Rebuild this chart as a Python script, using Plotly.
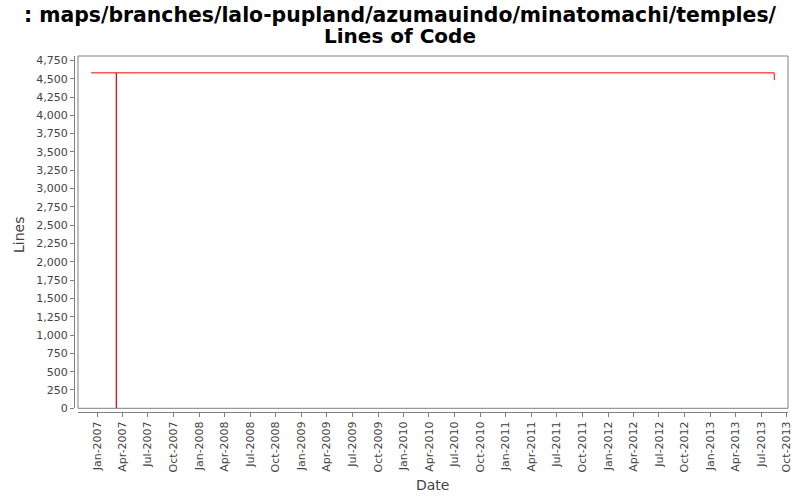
import plotly.graph_objects as go

# Data (step-shaped Lines of Code series)
dates = ["2006-12-11", "2007-03-11", "2007-03-11", "2007-03-11", "2013-08-17", "2013-08-17"]
lines = [4580, 4580, 0, 4580, 4580, 4480]

title_lines = [": maps/branches/lalo-pupland/azumauindo/minatomachi/temples/", "Lines of Code"]
y_ticks = list(range(0, 4751, 250))

fig = go.Figure()
fig.add_trace(go.Scatter(x=dates, y=lines, mode="lines",
                         line=dict(color="#ff0000", width=1), showlegend=False,
                         hoverinfo="skip"))

gray = "#808080"
tickfont = dict(family="DejaVu Sans", size=11, color="#444444")
L, R, T, B = 74, 12, 56, 88
W_PAPER = 800.0 - L - R
H_PAPER = 500.0 - T - B
BOTTOM_PX = 500.0 - B


def px_x(x):
    return (x - L) / W_PAPER


def px_y(y):
    return (BOTTOM_PX - y) / H_PAPER


annotations = []
for txt, ypx, size in zip(title_lines, [15, 36], [20.4, 20]):
    annotations.append(dict(text="<b>" + txt + "</b>", xref="paper", yref="paper",
                            x=px_x(400), xanchor="center", y=px_y(ypx),
                            yanchor="middle", showarrow=False,
                            font=dict(family="DejaVu Sans", size=size, color="black")))
axis_title_font = dict(family="DejaVu Sans", size=14, color="#444444")
annotations.append(dict(text="Date", xref="paper", yref="paper", x=px_x(432), y=px_y(485),
                        xanchor="center", yanchor="middle", showarrow=False,
                        font=axis_title_font))
annotations.append(dict(text="Lines", xref="paper", yref="paper", x=px_x(19), y=px_y(235),
                        xanchor="center", yanchor="middle", showarrow=False,
                        textangle=-90, font=axis_title_font))

fig.update_layout(
    width=800, height=500,
    paper_bgcolor="white", plot_bgcolor="white",
    margin=dict(l=L, r=R, t=T, b=B),
    annotations=annotations,
    xaxis=dict(
        type="date",
        domain=[0.0056, 1],
        range=["2006-10-25", "2013-10-05"],
        anchor="free", position=0,
        tickmode="linear", tick0="2007-01-01", dtick="M3",
        tickformat="%b-%Y", tickangle=-90,
        ticks="outside", ticklen=4, tickcolor=gray,
        showline=True, linecolor=gray, linewidth=1,
        showgrid=False, zeroline=False, automargin=False,
        tickfont=tickfont,
    ),
    yaxis=dict(
        domain=[0.0104, 1],
        range=[0, 4810],
        anchor="free", position=0,
        tickmode="array", tickvals=y_ticks,
        tickformat=",d",
        ticks="outside", ticklen=4, tickcolor=gray,
        showline=True, linecolor=gray, linewidth=1,
        showgrid=False, zeroline=False, automargin=False,
        tickfont=tickfont,
    ),
    shapes=[dict(type="rect", xref="x domain", yref="y domain",
                 x0=0, x1=1, y0=0, y1=1, line=dict(color=gray, width=1),
                 fillcolor="rgba(0,0,0,0)", layer="above")],
)

fig.write_html("out.html", config={"displayModeBar": False},
               post_script="document.body.style.margin='0';")
